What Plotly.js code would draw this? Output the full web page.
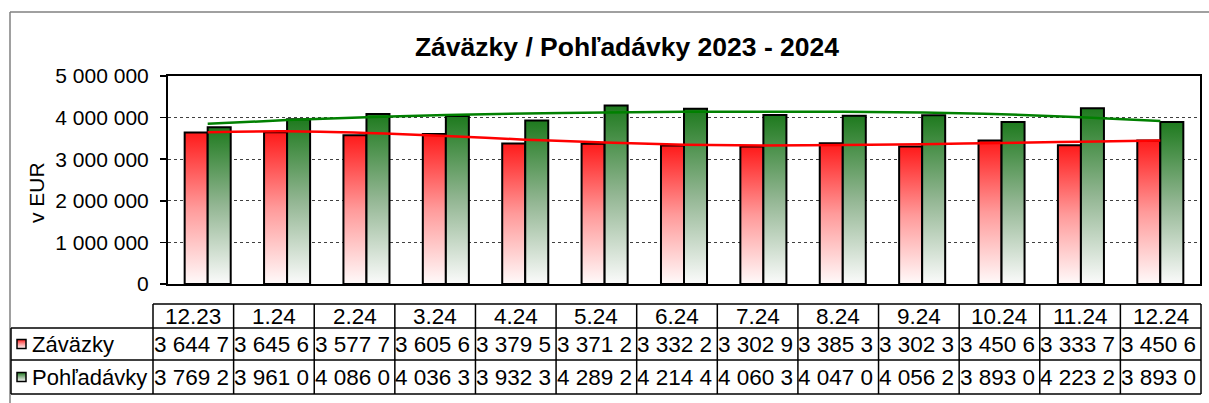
<!DOCTYPE html>
<html>
<head>
<meta charset="utf-8">
<script src="https://cdn.plot.ly/plotly-3.0.1.min.js"></script>
<style>
  html, body { margin: 0; padding: 0; background: #fff; }
  #chart { width: 1209px; height: 403px; }
</style>
</head>
<body>
<div id="chart"></div>
<script>
// ---- data ----
const categories = ['12.23','1.24','2.24','3.24','4.24','5.24','6.24','7.24','8.24','9.24','10.24','11.24','12.24'];
const zavazky    = [3644700,3645600,3577700,3605600,3379500,3371200,3332200,3302900,3385300,3302300,3450600,3333700,3450600];
const pohladavky = [3769200,3961000,4086000,4036300,3932300,4289200,4214400,4060300,4047000,4056200,3893000,4223200,3893000];
// trend lines
const zavazkyTrend    = [3650000,3670000,3630000,3560000,3470000,3400000,3350000,3330000,3340000,3360000,3390000,3420000,3450000];
const pohladavkyTrend = [3850000,3940000,4010000,4060000,4100000,4120000,4140000,4140000,4140000,4120000,4080000,4010000,3920000];
const seriesNames = ['Záväzky','Pohľadávky'];
const yTicks = [0,1000000,2000000,3000000,4000000,5000000];
const titleText = 'Záväzky / Pohľadávky 2023 - 2024';
const yTitle = 'v EUR';

// ---- geometry (pixels) ----
const W = 1209, H = 403;
const L = 168, R = 1200, T = 76, B = 284;
const px = X => (X - L) / (R - L);
const py = Y => (B - Y) / (B - T);

const FONT = 'Liberation Sans, Arial, sans-serif';

function fmtTrunc(v) {
  const s = Math.round(v).toString().replace(/\B(?=(\d{3})+(?!\d))/g, ' ');
  return s.slice(0, 7);
}

const data = [
  { type: 'bar', x: categories, y: zavazky, name: seriesNames[0],
    marker: { color: '#ff4040', line: { color: '#000', width: 2 } }, hoverinfo: 'skip' },
  { type: 'bar', x: categories, y: pohladavky, name: seriesNames[1],
    marker: { color: '#3a8a3a', line: { color: '#000', width: 2 } }, hoverinfo: 'skip' },
  { type: 'scatter', mode: 'lines', x: categories, y: zavazkyTrend, line: { color: '#ff0000', width: 2.5, shape: 'spline' }, hoverinfo: 'skip' },
  { type: 'scatter', mode: 'lines', x: categories, y: pohladavkyTrend, line: { color: '#008000', width: 2.5, shape: 'spline' }, hoverinfo: 'skip' }
];

// ---- table shapes & annotations ----
const shapes = [];
const annotations = [];
const line = (x0, y0, x1, y1, color, width) => shapes.push({
  type: 'line', xref: 'paper', yref: 'paper', x0: px(x0), y0: py(y0), x1: px(x1), y1: py(y1),
  line: { color: color, width: width }, layer: 'above'
});
// outer chart border
line(10, 12, 1215, 12, '#808080', 1.5);
line(10, 12, 10, 410, '#808080', 1.5);

const tx0 = 153, tx1 = 1201, colW = (tx1 - tx0) / categories.length;
const rowY = [304, 328, 360, 394];
line(tx0, rowY[0], tx1, rowY[0], '#000', 1.5);
for (let r = 1; r < rowY.length; r++) line(11, rowY[r], tx1, rowY[r], '#000', 1.5);
line(11, rowY[1], 11, rowY[3], '#000', 1.5);
for (let k = 0; k <= categories.length; k++) {
  const x = tx0 + k * colW;
  line(x, rowY[0], x, rowY[3], '#000', 1.5);
}

const rows = [zavazky, pohladavky];
categories.forEach((c, i) => {
  const cx = tx0 + (i + 0.5) * colW;
  annotations.push({ xref: 'paper', yref: 'paper', x: px(cx), y: py((rowY[0] + rowY[1]) / 2),
    text: c, showarrow: false, xanchor: 'center', yanchor: 'middle', font: { size: 22.5, color: '#000', family: FONT } });
  rows.forEach((arr, r) => {
    annotations.push({ xref: 'paper', yref: 'paper', x: px(tx0 + i * colW - 0.5), y: py((rowY[r + 1] + rowY[r + 2]) / 2),
      text: fmtTrunc(arr[i]), showarrow: false, xanchor: 'left', yanchor: 'middle', borderpad: 0,
      font: { size: 22.5, color: '#000', family: FONT } });
  });
});

const keyIdx = [];
seriesNames.forEach((n, r) => {
  const cy = (rowY[r + 1] + rowY[r + 2]) / 2;
  keyIdx.push(shapes.length);
  shapes.push({ type: 'rect', xref: 'paper', yref: 'paper', x0: px(17), x1: px(26), y0: py(cy - 4.5), y1: py(cy + 4.5),
    line: { color: '#000', width: 1.5 }, fillcolor: r === 0 ? '#ff9090' : '#90b890', layer: 'above' });
  annotations.push({ xref: 'paper', yref: 'paper', x: px(31), y: py(cy), text: n, showarrow: false,
    xanchor: 'left', yanchor: 'middle', borderpad: 0, font: { size: 22, color: '#000', family: FONT } });
});

// y axis title
annotations.push({ xref: 'paper', yref: 'paper', x: px(36), y: py(193), text: yTitle, textangle: -90,
  showarrow: false, xanchor: 'center', yanchor: 'middle', font: { size: 21, color: '#000', family: FONT } });

const layout = {
  width: W, height: H,
  margin: { l: L, r: W - R, t: T, b: H - B, pad: 0 },
  paper_bgcolor: '#fff', plot_bgcolor: '#fff',
  showlegend: false,
  separators: ', ',
  barmode: 'group', bargap: 0.42, bargroupgap: 0,
  title: { text: '<b>' + titleText + '</b>', x: 627 / W, xanchor: 'center', y: 1 - 47 / H, yanchor: 'middle',
    font: { size: 26.5, color: '#000', family: FONT } },
  xaxis: { type: 'category', showticklabels: false, ticks: '', showgrid: false, zeroline: false,
    showline: true, mirror: true, linecolor: '#000', linewidth: 2, fixedrange: true },
  yaxis: { range: [0, 5000000], tickvals: yTicks, tickformat: ',d', ticks: 'outside', ticklen: 6, tickwidth: 1.5, tickcolor: '#000',
    ticklabelstandoff: 7, automargin: false,
    tickfont: { size: 21, color: '#000', family: FONT },
    showgrid: true, gridcolor: '#404040', griddash: 'dot', gridwidth: 1, zeroline: false,
    showline: true, mirror: true, linecolor: '#000', linewidth: 2, fixedrange: true },
  shapes: shapes,
  annotations: annotations
};

Plotly.newPlot('chart', data, layout, { staticPlot: true, displayModeBar: false }).then(gd => {
  const svg = gd.querySelector('svg.main-svg');
  const ns = 'http://www.w3.org/2000/svg';
  let defs = svg.querySelector('defs');
  if (!defs) { defs = document.createElementNS(ns, 'defs'); svg.insertBefore(defs, svg.firstChild); }
  function addGrad(id, stops) {
    const g = document.createElementNS(ns, 'linearGradient');
    g.setAttribute('id', id);
    g.setAttribute('x1', '0'); g.setAttribute('y1', '0'); g.setAttribute('x2', '0'); g.setAttribute('y2', '1');
    stops.forEach(([o, c]) => {
      const s = document.createElementNS(ns, 'stop');
      s.setAttribute('offset', o); s.setAttribute('stop-color', c);
      g.appendChild(s);
    });
    defs.appendChild(g);
  }
  addGrad('gradRed', [[0, '#ff1a1a'], [0.5, '#ff9a9a'], [1, '#fffafa']]);
  addGrad('gradGreen', [[0, '#1e7a1e'], [0.5, '#93b693'], [1, '#fbfbfb']]);
  const traces = gd.querySelectorAll('.barlayer .trace');
  if (traces[0]) traces[0].querySelectorAll('path').forEach(p => p.style.fill = 'url(#gradRed)');
  if (traces[1]) traces[1].querySelectorAll('path').forEach(p => p.style.fill = 'url(#gradGreen)');
  keyIdx.forEach((idx, r) => {
    gd.querySelectorAll('.shapelayer path[data-index="' + idx + '"]').forEach(p => {
      p.style.fill = r === 0 ? 'url(#gradRed)' : 'url(#gradGreen)';
      p.style.fillOpacity = 1;
    });
  });
});
</script>
</body>
</html>
